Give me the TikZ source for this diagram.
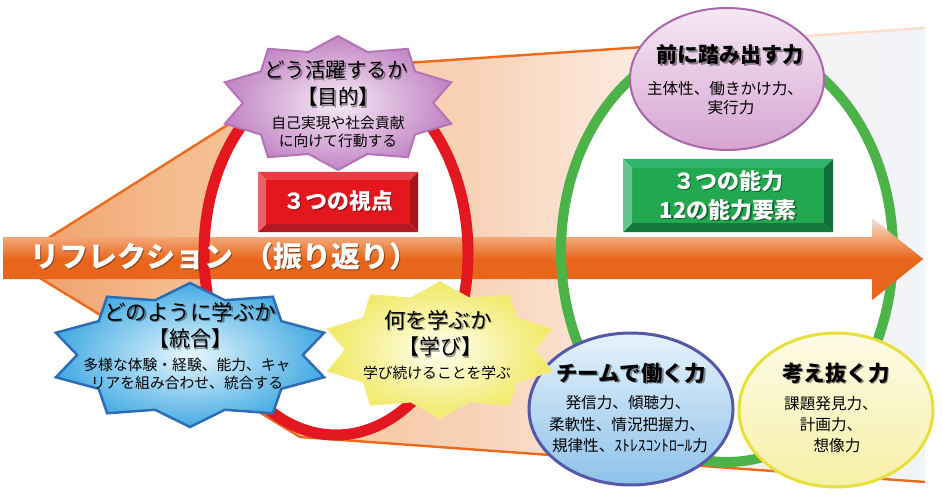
\documentclass[tikz,border=0pt]{standalone}
\usepackage{fontspec}
\setmainfont{Noto Sans CJK JP}
\usetikzlibrary{shapes.geometric}

\definecolor{fa}{HTML}{EF9D6A}
\definecolor{fb}{HTML}{F5BC8E}
\definecolor{fc}{HTML}{F8D3B8}
\definecolor{fd}{HTML}{FCE8DC}
\definecolor{fe}{HTML}{F7F2F2}
\definecolor{ff}{HTML}{F1F4F8}
\definecolor{ao}{HTML}{E8661C}
\definecolor{am}{HTML}{F3A676}
\definecolor{at}{HTML}{EEE6E2}
\definecolor{edgeC}{HTML}{EC6A1C}
\definecolor{rRingC}{HTML}{E3171F}
\definecolor{gRingC}{HTML}{4CB348}
\definecolor{rbC}{HTML}{E4161E}
\definecolor{rbT}{HTML}{EA3C44}
\definecolor{rbL}{HTML}{EC6068}
\definecolor{rbR}{HTML}{A8141C}
\definecolor{rbB}{HTML}{B41820}
\definecolor{gbC}{HTML}{22A84E}
\definecolor{gbT}{HTML}{30B46E}
\definecolor{gbL}{HTML}{64C48C}
\definecolor{gbR}{HTML}{106E38}
\definecolor{gbB}{HTML}{14783C}
\definecolor{psIn}{HTML}{F6ECF6}
\definecolor{psOut}{HTML}{C285C4}
\definecolor{psBd}{HTML}{B274B6}
\definecolor{bsIn}{HTML}{E8F7FD}
\definecolor{bsOut}{HTML}{45ABE3}
\definecolor{bsBd}{HTML}{2E6DB4}
\definecolor{ysIn}{HTML}{FFFFF4}
\definecolor{ysOut}{HTML}{F1E965}
\definecolor{ysBd}{HTML}{F3EC84}
\definecolor{peTop}{HTML}{F6E8F4}
\definecolor{peBot}{HTML}{D6A4D2}
\definecolor{peBd}{HTML}{A868A8}
\definecolor{beTop}{HTML}{E6F3FC}
\definecolor{beBot}{HTML}{8EC1EA}
\definecolor{beBd}{HTML}{5558A8}
\definecolor{yeTop}{HTML}{FDFBE6}
\definecolor{yeBot}{HTML}{F6F0A6}
\definecolor{yeBd}{HTML}{E8E03A}

\pgfdeclarehorizontalshading{funnelsh}{100bp}{color(0bp)=(fa); color(25bp)=(fa); color(34bp)=(fb); color(50.6bp)=(fc); color(58.3bp)=(fd); color(66bp)=(fe); color(75bp)=(ff); color(100bp)=(ff)}
\pgfdeclareverticalshading{arrowsh}{100bp}{color(0bp)=(ao); color(50bp)=(ao); color(63bp)=(am); color(75bp)=(at); color(100bp)=(at)}

\newcommand\fsz[1]{\fontsize{#1}{#1}\selectfont}
\newcommand\jstarpath[5]{plot[samples at={0,...,19},variable=\k]({#1+ifthenelse(mod(\k,2)==0,1,#5)*#3*cos(90+18*\k)},{#2+ifthenelse(mod(\k,2)==0,1,#5)*#4*sin(90+18*\k)})}
\newcommand\shtext[5]{\node[#2, text=black, opacity=.4] (#1s) at (#3+1.6,#4+1.6) {#5};\node[#2] (#1) at (#3,#4) {#5};}

\tikzset{
 txt/.style={inner sep=0pt, anchor=center, text=black},
 sttl/.style={txt, font=\fsz{21}},
 ettl/.style={txt, font={\fsz{21.5}\bfseries}},
 ssub/.style={txt, font=\fsz{14.8}},
 esub/.style={txt, font=\fsz{15.6}},
 wbox/.style={txt, text=white, font={\fsz{22}\bfseries}},
 edge/.style={draw=edgeC, line width=2.4pt},
 ring/.style={line width=11pt},
}

\begin{document}
\begin{tikzpicture}[x=1pt,y=-1pt]
\useasboundingbox (0,0) rectangle (942,497);
\fill[white] (0,0) rectangle (942,497);

% funnel
\coordinate (apex) at (12,261);
\coordinate (tbend) at (316,69);
\coordinate (tend) at (925,28);
\coordinate (bbend) at (300,437);
\coordinate (bend) at (925,482);
\coordinate (t1) at (700,43.2);
\coordinate (t2) at (800,36.4);
\shade[shading=funnelsh] (apex) -- (tbend) -- (tend) -- (bend) -- (bbend) -- cycle;
\draw[edge] (apex) -- (tbend) -- (t1);
\draw[edge, draw=edgeC!55!white] (t1) -- (t2);
\draw[edge, draw=edgeC!22!white] (t2) -- (tend);
\draw[edge] (apex) -- (bbend) -- (bend);

% ring interiors
\fill[white] (336,253) ellipse [x radius=132pt, y radius=182pt];
\fill[white] (727,251) ellipse [x radius=166pt, y radius=211pt];

% arrow
\shade[shading=arrowsh] (3,237) -- (872,237) -- (872,218) -- (923,259) -- (872,300) -- (872,279) -- (3,279) -- cycle;

% rings
\draw[ring, draw=rRingC] (336,253) ellipse [x radius=132pt, y radius=182pt];
\draw[ring, line width=10pt, draw=gRingC] (727,251) ellipse [x radius=166pt, y radius=211pt];

% arrow head over ring
\shade[shading=arrowsh] (872,218) -- (923,259) -- (872,300) -- cycle;

% arrow label
\shtext{refl}{txt, anchor=west, text=white, font={\fsz{29}\bfseries}}{30}{256}{リフレクション\hspace{11pt}（振り返り）}

% red box
\fill[rbC] (266,180) rectangle (410,224);
\fill[rbT] (258,172) -- (418,172) -- (410,180) -- (266,180) -- cycle;
\fill[rbB] (258,232) -- (418,232) -- (410,224) -- (266,224) -- cycle;
\fill[rbL] (258,172) -- (266,180) -- (266,224) -- (258,232) -- cycle;
\fill[rbR] (418,172) -- (410,180) -- (410,224) -- (418,232) -- cycle;
\shtext{redbox}{wbox}{338}{201}{３つの視点}

% green box
\fill[gbC] (632,168) rectangle (824,223);
\fill[gbT] (623,159) -- (833,159) -- (824,168) -- (632,168) -- cycle;
\fill[gbB] (623,232) -- (833,232) -- (824,223) -- (632,223) -- cycle;
\fill[gbL] (623,159) -- (632,168) -- (632,223) -- (623,232) -- cycle;
\fill[gbR] (833,159) -- (824,168) -- (824,223) -- (833,232) -- cycle;
\shtext{gbox1}{wbox}{728}{181}{３つの能力}
\shtext{gbox2}{wbox}{728}{210}{12の能力要素}

% purple star
\draw[line width=2pt, draw=psBd, inner color=psIn, outer color=psOut] \jstarpath{338}{103}{119}{67}{0.8} -- cycle;
\shtext{ps1}{sttl, font=\fsz{20.5}}{336}{70}{どう活躍するか}
\shtext{ps2}{sttl, font=\fsz{20.5}}{338}{97}{【目的】}
\node[ssub] (ps3) at (338,123) {自己実現や社会貢献};
\node[ssub] (ps4) at (338,141) {に向けて行動する};

% blue star
\draw[line width=2.5pt, draw=bsBd, inner color=bsIn, outer color=bsOut] \jstarpath{190}{355}{141}{72}{0.8} -- cycle;
\shtext{bs1}{sttl, font=\fsz{21.5}}{190}{312}{どのように学ぶか}
\shtext{bs2}{sttl}{190}{339}{【統合】}
\node[ssub] (bs3) at (187,365) {多様な体験・経験、能力、キャ};
\node[ssub] (bs4) at (187,383) {リアを組み合わせ、統合する};

% blue ellipse
\node[ellipse, draw=beBd, line width=3pt, top color=beTop, bottom color=beBot, minimum width=204pt, minimum height=152pt, inner sep=0pt] (bell) at (631,409) {};
\shtext{be1}{ettl}{631}{373}{チームで働く力}
\node[esub] (be2) at (628,403) {発信力、傾聴力、};
\node[esub] (be3) at (627,425) {柔軟性、情況把握力、};
\node[esub] (be4) at (630,446) {規律性、ｽﾄﾚｽｺﾝﾄﾛｰﾙ力};

% yellow star
\draw[line width=1.5pt, draw=ysBd, inner color=ysIn, outer color=ysOut] \jstarpath{440}{350}{118}{68}{0.8} -- cycle;
\shtext{ys1}{sttl, font=\fsz{21.5}}{438}{320}{何を学ぶか}
\shtext{ys2}{sttl}{440}{347}{【学び】}
\node[ssub] (ys3) at (437,373) {学び続けることを学ぶ};

% purple ellipse
\node[ellipse, draw=peBd, line width=2pt, top color=peTop, bottom color=peBot, minimum width=194pt, minimum height=142pt, inner sep=0pt] (pell) at (727,79) {};
\shtext{pe1}{ettl, font={\fsz{21}\bfseries}}{730}{55}{前に踏み出す力}
\node[esub] (pe2) at (725,89) {主体性、働きかけ力、};
\node[esub] (pe3) at (731,108) {実行力};

% yellow ellipse
\node[ellipse, draw=yeBd, line width=3pt, top color=yeTop, bottom color=yeBot, minimum width=194pt, minimum height=154pt, inner sep=0pt] (yell) at (836,410) {};
\shtext{ye1}{ettl}{836}{373}{考え抜く力}
\node[esub] (ye2) at (831,404) {課題発見力、};
\node[esub] (ye3) at (831,425) {計画力、};
\node[esub] (ye4) at (837,446) {想像力};
\end{tikzpicture}
\end{document}
